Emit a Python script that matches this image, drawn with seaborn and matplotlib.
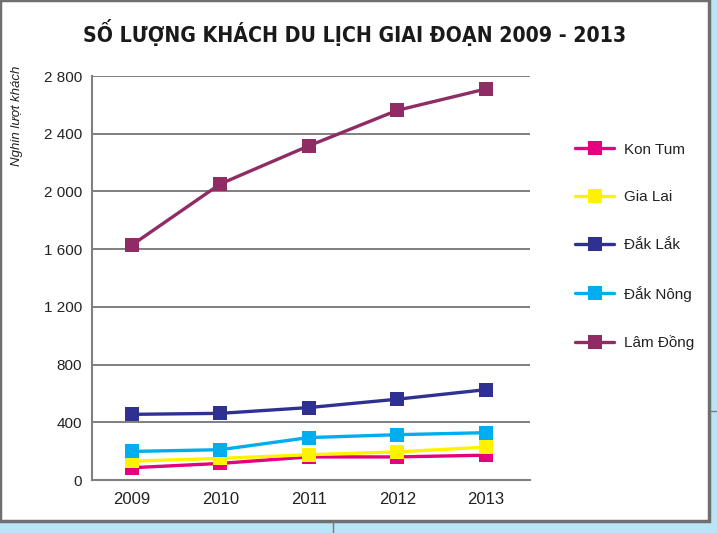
import matplotlib
matplotlib.use("Agg")
import matplotlib.pyplot as plt
from matplotlib.patches import Rectangle
import pandas as pd
import seaborn as sns

years = [2009, 2010, 2011, 2012, 2013]
kon_tum = [85, 115, 160, 160, 172]
gia_lai = [130, 150, 175, 195, 228]
dak_lak = [455, 462, 502, 560, 626]
dak_nong = [198, 210, 294, 314, 328]
lam_dong = [1628, 2052, 2316, 2562, 2710]

names = ["Kon Tum", "Gia Lai", "Đắk Lắk", "Đắk Nông", "Lâm Đồng"]
colors = ["#e6007e", "#fff200", "#2e3192", "#00aeef", "#8e2c63"]
y_ticks = [0, 400, 800, 1200, 1600, 2000, 2400, 2800]
y_labels = ["0", "400", "800", "1 200", "1 600", "2 000", "2 400", "2 800"]

df = pd.DataFrame({
    "Năm": years * 5,
    "Giá trị": kon_tum + gia_lai + dak_lak + dak_nong + lam_dong,
    "Tỉnh": [n for n in names for _ in years],
})

sns.set_style("white")
plt.rcParams["font.family"] = ["Liberation Sans", "DejaVu Sans"]

fig = plt.figure(figsize=(7.17, 5.33), dpi=100, facecolor="#b9e5f7")
# white page with grey frame
fig.patches.append(Rectangle((0.0, 12 / 533), 709 / 717, 1 - 12 / 533, transform=fig.transFigure,
                             facecolor="white", edgecolor="#6f6f6f", linewidth=2.5, zorder=-5))
fig.lines.append(plt.Line2D([333 / 717, 333 / 717], [0, 12 / 533], transform=fig.transFigure,
                            color="#7a7a7a", lw=1, zorder=-4))
fig.lines.append(plt.Line2D([710 / 717, 1], [1 - 411 / 533, 1 - 411 / 533], transform=fig.transFigure,
                            color="#7a7a7a", lw=1, zorder=-4))

ax = fig.add_axes([92 / 717, 1 - 480 / 533, 438 / 717, 404 / 533])
ax.set_facecolor("none")

for name, color in zip(names, colors):
    sub = df[df["Tỉnh"] == name]
    sns.lineplot(data=sub, x="Năm", y="Giá trị", ax=ax, color=color, marker="s",
                 markersize=10.5, markeredgewidth=0, linewidth=2.4, label=name)

ax.set_xlim(2008.55, 2013.5)
ax.set_ylim(0, 2800)
ax.set_yticks(y_ticks)
ax.set_yticklabels(y_labels)
ax.set_xticks(years)
ax.set_xticklabels([str(y) for y in years])
ax.set_xticks([2009.5, 2010.5, 2011.5, 2012.5, 2013.42], minor=True)
ax.tick_params(axis="x", which="major", length=0, pad=9, labelsize=12, labelcolor="#222222")
ax.tick_params(axis="x", which="minor", length=5, color="#808080", width=1.3)
ax.tick_params(axis="y", length=5, color="#808080", width=1.3, labelsize=11, labelcolor="#222222", pad=2)

ax.yaxis.grid(True, color="#7f7f7f", linewidth=1.4)
ax.set_axisbelow(True)
for s in ["top", "right"]:
    ax.spines[s].set_visible(False)
for s in ["left", "bottom"]:
    ax.spines[s].set_color("#808080")
    ax.spines[s].set_linewidth(1.5)

ax.set_xlabel("")
ax.set_ylabel("")

leg = ax.legend(loc="upper left", bbox_to_anchor=(561 / 717, 1 - 129 / 533),
                bbox_transform=fig.transFigure, frameon=False, fontsize=11,
                labelspacing=2.2, handlelength=2.6, handletextpad=0.6)
for t in leg.get_texts():
    t.set_color("#222222")

fig.text(355 / 717, 1 - 33 / 533, "SỐ LƯỢNG KHÁCH DU LỊCH GIAI ĐOẠN 2009 - 2013",
         ha="center", va="center", fontsize=15.2, fontweight="bold", color="#1a1a1a",
         family="DejaVu Sans", fontstretch="condensed")
fig.text(17 / 717, 1 - 116 / 533, "Nghin lượt khách", rotation=90, ha="center", va="center",
         fontsize=9.5, style="italic", color="#222222")

fig.savefig("out.png", dpi=100, facecolor=fig.get_facecolor())
